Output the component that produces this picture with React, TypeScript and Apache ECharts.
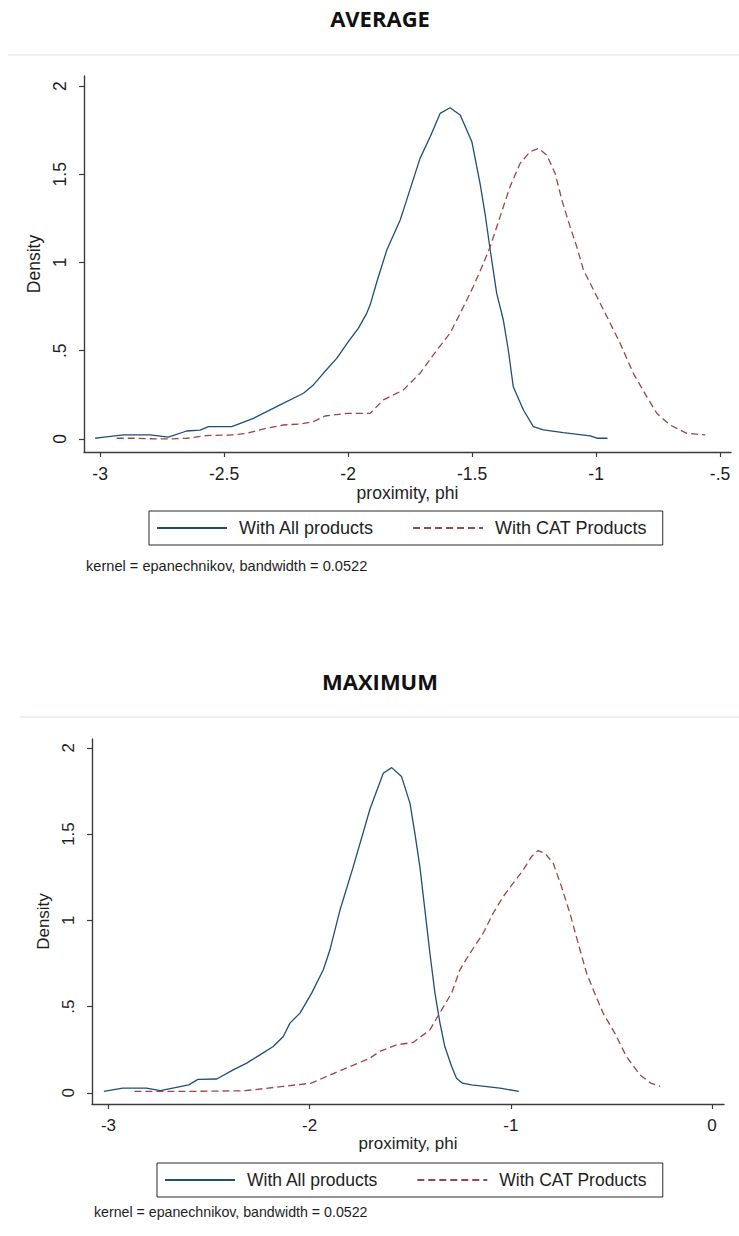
import React, { useEffect, useRef } from "react";
import * as echarts from "echarts";

// ---------- data ----------
const seriesNames = ["With All products", "With CAT Products"];
const panelTitles = ["AVERAGE", "MAXIMUM"];
const xAxisTitle = "proximity, phi";
const yAxisTitle = "Density";
const noteText = "kernel = epanechnikov, bandwidth = 0.0522";

const avgXTicks = [-3, -2.5, -2, -1.5, -1, -0.5];
const maxXTicks = [-3, -2, -1, 0];
const yTicks = [0, 0.5, 1, 1.5, 2];

// AVERAGE panel – with all products
const avgAllX = [-3.02, -3.0, -2.906, -2.798, -2.725, -2.651, -2.597, -2.563, -2.469, -2.382, -2.274, -2.18, -2.14, -2.1, -2.046, -1.999, -1.959, -1.925, -1.911, -1.884, -1.844, -1.79, -1.777, -1.71, -1.669, -1.629, -1.589, -1.548, -1.501, -1.468, -1.448, -1.427, -1.401, -1.374, -1.354, -1.334, -1.293, -1.253, -1.212, -1.132, -1.024, -0.997, -0.954];
const avgAllY = [0.004, 0.008, 0.023, 0.023, 0.01, 0.045, 0.05, 0.07, 0.07, 0.117, 0.193, 0.259, 0.306, 0.372, 0.457, 0.551, 0.627, 0.712, 0.76, 0.891, 1.071, 1.241, 1.297, 1.59, 1.713, 1.845, 1.877, 1.836, 1.685, 1.449, 1.279, 1.071, 0.826, 0.674, 0.504, 0.296, 0.164, 0.07, 0.051, 0.036, 0.017, 0.004, 0.004];
// AVERAGE panel – with CAT products
const avgCatX = [-2.933, -2.866, -2.771, -2.718, -2.651, -2.57, -2.462, -2.409, -2.328, -2.261, -2.194, -2.14, -2.093, -2.005, -1.925, -1.911, -1.858, -1.777, -1.71, -1.642, -1.589, -1.548, -1.495, -1.454, -1.427, -1.387, -1.347, -1.306, -1.266, -1.232, -1.199, -1.165, -1.138, -1.105, -1.078, -1.051, -0.997, -0.943, -0.903, -0.85, -0.796, -0.755, -0.702, -0.634, -0.56];
const avgCatY = [0.004, 0.004, 0.0, 0.0, 0.004, 0.019, 0.023, 0.032, 0.061, 0.079, 0.085, 0.098, 0.13, 0.145, 0.145, 0.145, 0.221, 0.278, 0.372, 0.504, 0.599, 0.712, 0.864, 0.996, 1.09, 1.26, 1.43, 1.562, 1.628, 1.647, 1.609, 1.505, 1.354, 1.203, 1.09, 0.958, 0.807, 0.656, 0.542, 0.372, 0.24, 0.145, 0.079, 0.032, 0.023];

// MAXIMUM panel – with all products
const maxAllX = [-3.023, -2.929, -2.812, -2.742, -2.601, -2.555, -2.462, -2.38, -2.313, -2.247, -2.181, -2.131, -2.098, -2.048, -1.99, -1.932, -1.899, -1.849, -1.783, -1.7, -1.634, -1.592, -1.543, -1.501, -1.477, -1.452, -1.427, -1.402, -1.377, -1.352, -1.328, -1.294, -1.27, -1.24, -1.195, -1.054, -0.96];
const maxAllY = [0.008, 0.027, 0.027, 0.012, 0.046, 0.078, 0.08, 0.133, 0.172, 0.22, 0.268, 0.326, 0.404, 0.462, 0.578, 0.713, 0.829, 1.06, 1.311, 1.645, 1.852, 1.885, 1.833, 1.678, 1.505, 1.311, 1.06, 0.809, 0.578, 0.404, 0.268, 0.152, 0.085, 0.056, 0.046, 0.027, 0.008];
// MAXIMUM panel – with CAT products
const maxCatX = [-2.871, -2.6, -2.32, -2.133, -1.992, -1.915, -1.8, -1.7, -1.651, -1.568, -1.485, -1.402, -1.344, -1.294, -1.253, -1.203, -1.137, -1.088, -1.038, -0.988, -0.938, -0.897, -0.864, -0.831, -0.789, -0.748, -0.706, -0.665, -0.623, -0.59, -0.541, -0.483, -0.425, -0.358, -0.304, -0.257];
const maxCatY = [0.008, 0.008, 0.012, 0.037, 0.056, 0.095, 0.152, 0.201, 0.24, 0.278, 0.292, 0.365, 0.481, 0.578, 0.713, 0.809, 0.925, 1.041, 1.137, 1.215, 1.292, 1.369, 1.404, 1.389, 1.331, 1.195, 1.041, 0.867, 0.693, 0.597, 0.462, 0.346, 0.21, 0.104, 0.056, 0.037];

// ---------- styling ----------
const FONT = '"Liberation Sans", Arial, Helvetica, sans-serif';
const TITLE_FONT = '"Open Sans", "Noto Sans", sans-serif';
const BLUE = "#1f4e79";
const RED = "#a0434b";
const AXIS = "#3c3c3c";
const TXT = "#1e1e1e";

const pairs = (xs: number[], ys: number[]) => xs.map((x, i) => [x, ys[i]]);
const stataFmt = (v: number) => {
  const s = String(+Number(v).toFixed(2));
  return s.replace(/^(-?)0\./, "$1.");
};

function xAxisCfg(gridIndex: number, min: number, max: number, ticks: number[], fs: number) {
  return {
    type: "value",
    gridIndex,
    min,
    max,
    axisLine: { show: true, onZero: false, lineStyle: { color: AXIS, width: 1.4 } },
    axisTick: { show: true, length: 5, customValues: ticks, lineStyle: { color: AXIS, width: 1.2 } },
    axisLabel: {
      customValues: ticks,
      formatter: stataFmt,
      fontSize: fs,
      fontFamily: FONT,
      color: TXT,
      margin: 13,
    },
    splitLine: { show: false },
    name: xAxisTitle,
    nameLocation: "middle",
    nameGap: 30,
    nameTextStyle: { fontSize: fs, fontFamily: FONT, color: TXT },
  };
}

function yAxisCfg(gridIndex: number, min: number, max: number, fs: number) {
  return {
    type: "value",
    gridIndex,
    min,
    max,
    axisLine: { show: true, onZero: false, lineStyle: { color: AXIS, width: 1.4 } },
    axisTick: { show: true, length: 5, customValues: yTicks, lineStyle: { color: AXIS, width: 1.2 } },
    axisLabel: {
      customValues: yTicks,
      formatter: stataFmt,
      rotate: 90,
      fontSize: fs,
      fontFamily: FONT,
      color: TXT,
      margin: 15,
    },
    splitLine: { show: false },
    name: yAxisTitle,
    nameLocation: "middle",
    nameRotate: 90,
    nameGap: 35,
    nameTextStyle: { fontSize: fs, fontFamily: FONT, color: TXT },
  };
}

function legendCfg(left: number, top: number, fs: number) {
  return {
    left,
    top,
    orient: "horizontal",
    data: seriesNames,
    itemWidth: 70,
    itemHeight: 18,
    itemGap: 38,
    padding: [8, 16, 8, 7],
    borderColor: "#2a2a2a",
    borderWidth: 1,
    selectedMode: false,
    itemStyle: { opacity: 0 },
    textStyle: { fontSize: fs, fontFamily: FONT, color: TXT, padding: [0, 0, 0, 7] },
  };
}

function lineSeries(name: string, xi: number, data: number[][], color: string, dashed: boolean) {
  return {
    type: "line",
    name,
    xAxisIndex: xi,
    yAxisIndex: xi,
    data,
    symbol: "none",
    showSymbol: false,
    smooth: false,
    lineStyle: { color, width: 1.3, type: dashed ? [7, 4] : "solid" },
    itemStyle: { color },
    emphasis: { disabled: true },
  };
}

export default function App() {
  const ref = useRef<HTMLDivElement>(null);
  useEffect(() => {
    document.body.style.margin = "0";
    if (!ref.current) return;
    const chart = echarts.init(ref.current, null, { renderer: "svg" });
    const titleStyle = { fontFamily: TITLE_FONT, fontWeight: "bold", fontSize: 22, color: "#111" };
    const option: any = {
      animation: false,
      backgroundColor: "#ffffff",
      title: [
        { text: panelTitles[0], left: 380, top: 7, textAlign: "center", padding: 0, textStyle: titleStyle },
        { text: panelTitles[1], left: 380, top: 670, textAlign: "center", padding: 0, textStyle: titleStyle },
      ],
      grid: [
        { left: 84, top: 76, width: 647, height: 376, containLabel: false },
        { left: 92, top: 739, width: 632, height: 365, containLabel: false },
      ],
      xAxis: [
        xAxisCfg(0, -3.065, -0.456, avgXTicks, 17.5),
        xAxisCfg(1, -3.082, 0.06, maxXTicks, 17),
      ],
      yAxis: [
        yAxisCfg(0, -0.074, 2.057, 17.5),
        yAxisCfg(1, -0.065, 2.051, 17),
      ],
      legend: [legendCfg(149, 511, 18), legendCfg(157, 1163, 17.5)],
      series: [
        lineSeries(seriesNames[0], 0, pairs(avgAllX, avgAllY), BLUE, false),
        lineSeries(seriesNames[1], 0, pairs(avgCatX, avgCatY), RED, true),
        lineSeries(seriesNames[0], 1, pairs(maxAllX, maxAllY), BLUE, false),
        lineSeries(seriesNames[1], 1, pairs(maxCatX, maxCatY), RED, true),
      ],
      graphic: [
        { type: "line", shape: { x1: 8, y1: 55, x2: 739, y2: 55 }, style: { stroke: "#e4ecec", lineWidth: 1.5 } },
        { type: "line", shape: { x1: 20, y1: 717, x2: 739, y2: 717 }, style: { stroke: "#e4ecec", lineWidth: 1.5 } },
        {
          type: "text",
          x: 86,
          y: 566,
          style: { text: noteText, fontSize: 14.6, fontFamily: FONT, fill: TXT, verticalAlign: "middle", align: "left" },
        },
        {
          type: "text",
          x: 94,
          y: 1212,
          style: { text: noteText, fontSize: 14.2, fontFamily: FONT, fill: TXT, verticalAlign: "middle", align: "left" },
        },
      ],
    };
    chart.setOption(option);
    return () => chart.dispose();
  }, []);
  return <div ref={ref} style={{ position: "absolute", left: 0, top: 0, width: 739, height: 1236 }} />;
}
